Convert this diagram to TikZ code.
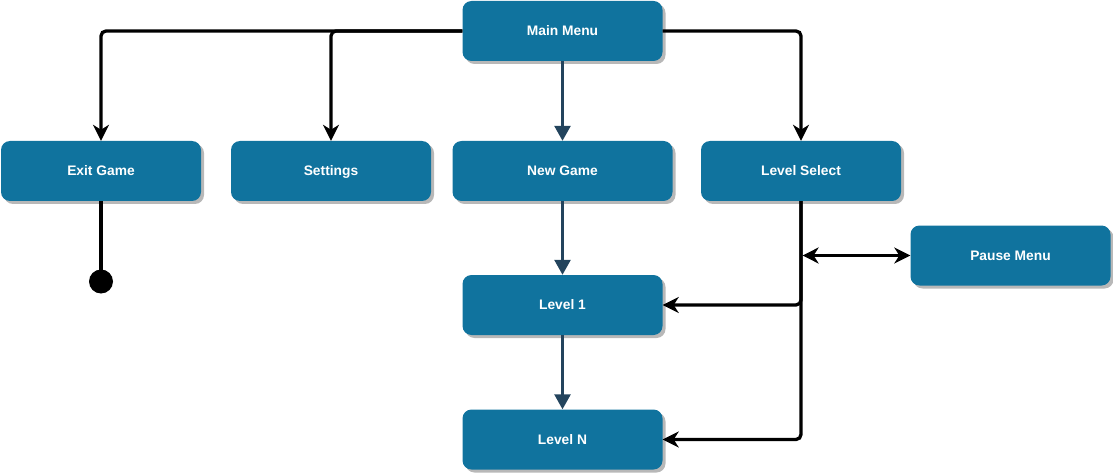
\documentclass[tikz,border=0pt]{standalone}
\usepackage{fontspec}
\setmainfont{Liberation Sans}
\usetikzlibrary{arrows.meta,shadows}
\definecolor{boxblue}{HTML}{10739E}
\definecolor{darkarrow}{HTML}{23445D}
\definecolor{shadowgray}{HTML}{B8B8B8}
\tikzset{
  box/.style={draw=none, fill=boxblue, rounded corners=9pt, minimum height=60pt,
    minimum width=200pt, inner sep=0pt, text=white,
    text height=9.8pt, text depth=0pt,
    font=\fontsize{13.8}{16}\selectfont\bfseries,
    drop shadow={shadow xshift=3pt, shadow yshift=-3pt, fill=shadowgray, opacity=1}},
  blk/.style={draw=black, line width=3.3pt, rounded corners=5pt,
    -{Stealth[length=16pt,width=16pt,inset=5pt]}},
  blkboth/.style={draw=black, line width=3.3pt,
    {Stealth[length=16pt,width=16pt,inset=5pt]}-{Stealth[length=16pt,width=16pt,inset=5pt]}},
  blkline/.style={draw=black, line width=3.3pt},
  dk/.style={draw=darkarrow, line width=2.7pt, -{Triangle[length=15pt,width=16pt]}},
  endpt/.style={circle, fill=black, minimum size=24pt, inner sep=0pt}
}
\begin{document}
\begin{tikzpicture}[x=1pt,y=-1pt]
\useasboundingbox (0,0) rectangle (1113,473);
\node[box] (mm) at (562.5,31) {Main Menu};
\node[box] (exit) at (101,171) {Exit Game};
\node[box] (settings) at (331,171) {Settings};
\node[box, minimum width=220pt] (newgame) at (562.5,171) {New Game};
\node[box] (lsel) at (801,171) {Level Select};
\node[box] (pause) at (1010.5,255.5) {Pause Menu};
\node[box] (l1) at (562.5,305) {Level 1};
\node[box] (ln) at (562.5,439.5) {Level N};
\node[endpt] (endc) at (101,281.5) {};
\coordinate (j) at (lsel.south |- pause.west);
\draw[blk] (mm.west) -| (exit.north);
\draw[blk] (mm.west) -| (settings.north);
\draw[blk] (mm.east) -| (lsel.north);
\draw[dk] (mm.south) -- (newgame.north);
\draw[dk] (newgame.south) -- (l1.north);
\draw[dk] (l1.south) -- (ln.north);
\draw[blkline] (exit.south) -- (endc.center);
\draw[blk] (lsel.south) |- (l1.east);
\draw[blk] (lsel.south) |- (ln.east);
\draw[blkboth] ([xshift=1.6pt]j) -- (pause.west);
\end{tikzpicture}
\end{document}
